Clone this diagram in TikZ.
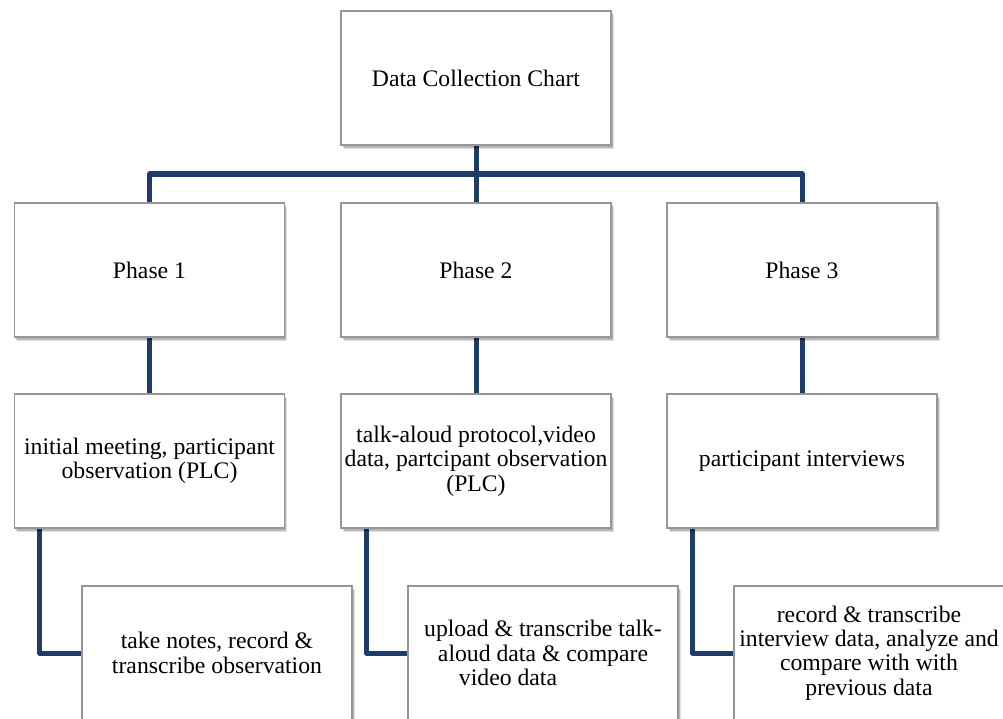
\documentclass[tikz,border=0pt]{standalone}
\usepackage{fontspec}
\setmainfont{Liberation Serif}
\usetikzlibrary{shadows,backgrounds}

\definecolor{linkblue}{RGB}{30,60,105}
\definecolor{boxline}{RGB}{150,150,150}

\tikzset{
  chartbox/.style={
    draw=boxline, line width=1.1bp, fill=white,
    minimum width=270bp, minimum height=134bp,
    inner sep=2bp, align=center,
    font=\fontsize{23.8}{24.5}\selectfont,
    drop shadow={shadow xshift=2.5bp, shadow yshift=-4bp, opacity=0.12, fill=black},
    drop shadow={shadow xshift=1.5bp, shadow yshift=-2.5bp, opacity=0.18, fill=black},
    drop shadow={shadow xshift=0.8bp, shadow yshift=-1.3bp, opacity=0.22, fill=black}
  },
  link/.style={draw=linkblue, line width=5bp, line join=round}
}

\begin{document}
\begin{tikzpicture}[x=1bp, y=-1bp]
  \useasboundingbox (0,0) rectangle (1003,719);
  \clip (0,0) rectangle (1003,719);

  % top level
  \node[chartbox] (top) at (476,78) {Data Collection Chart};

  % phases
  \node[chartbox] (p1) at (149.5,270) {Phase 1};
  \node[chartbox] (p2) at (476,270) {Phase 2};
  \node[chartbox] (p3) at (802,270) {Phase 3};

  % data sources
  \node[chartbox] (m1) at (149.5,461) {initial meeting, participant\\observation (PLC)};
  \node[chartbox] (m2) at (476,461) {talk-aloud protocol,video\\data, partcipant observation\\(PLC)};
  \node[chartbox] (m3) at (802,461) {participant interviews};

  % processing steps
  \node[chartbox] (b1) at (217,653) {take notes, record \&\\transcribe observation};
  \node[chartbox] (b2) at (543,653) {upload \& transcribe talk-\\aloud data \& compare\\video data\hspace*{70bp}};
  \node[chartbox] (b3) at (869,653) {record \& transcribe\\interview data, analyze and\\compare with with\\previous data};

  \coordinate (bus) at (476,174);

  \begin{scope}[on background layer]
    \fill[white] (0,0) rectangle (1003,719);

    \draw[link] (top.south) -- (bus);
    \draw[link] (p1.north) |- (bus) -| (p3.north);
    \draw[link] (bus) -- (p2.north);

    \draw[link] (p1.south) -- (m1.north);
    \draw[link] (p2.south) -- (m2.north);
    \draw[link] (p3.south) -- (m3.north);

    \draw[link] ([xshift=26bp]m1.south west) |- (b1.west);
    \draw[link] ([xshift=26bp]m2.south west) |- (b2.west);
    \draw[link] ([xshift=26bp]m3.south west) |- (b3.west);
  \end{scope}
\end{tikzpicture}
\end{document}
